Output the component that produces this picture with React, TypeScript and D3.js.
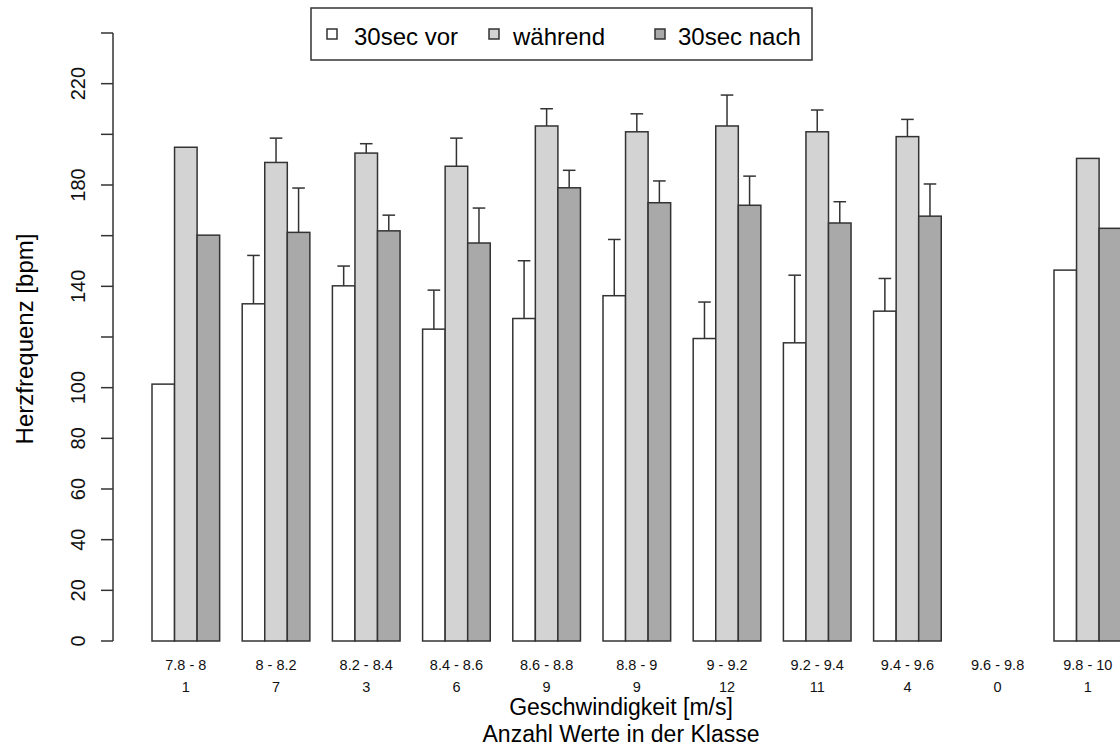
import React from "react";
import * as d3 from "d3";

// Speed classes (m/s), number of values per class and heart rate per phase.
const categories = [
  "7.8 - 8", "8 - 8.2", "8.2 - 8.4", "8.4 - 8.6", "8.6 - 8.8", "8.8 - 9",
  "9 - 9.2", "9.2 - 9.4", "9.4 - 9.6", "9.6 - 9.8", "9.8 - 10",
];
const counts = [1, 7, 3, 6, 9, 9, 12, 11, 4, 0, 1];

const seriesNames = ["30sec vor", "während", "30sec nach"];

const vorMean = [101.4, 133.1, 140.2, 123.1, 127.3, 136.3, 119.4, 117.7, 130.2, null, 146.4];
const vorSd = [null, 19.1, 7.8, 15.4, 22.8, 22.2, 14.4, 26.7, 12.9, null, null];

const waehrendMean = [194.9, 188.9, 192.6, 187.4, 203.3, 201.0, 203.3, 201.0, 199.1, null, 190.5];
const waehrendSd = [null, 9.6, 3.7, 11.1, 6.8, 7.1, 12.2, 8.6, 6.8, null, null];

const nachMean = [160.2, 161.3, 161.9, 157.1, 178.9, 173.0, 172.0, 165.0, 167.7, null, 162.9];
const nachSd = [null, 17.5, 6.2, 13.8, 6.9, 8.6, 11.5, 8.4, 12.7, null, null];

const yTicks = [0, 20, 40, 60, 80, 100, 120, 140, 160, 180, 200, 220, 240];
const yTickLabels = [0, 20, 40, 60, 80, 100, 140, 180, 220];

const means = [vorMean, waehrendMean, nachMean];
const sds = [vorSd, waehrendSd, nachSd];
const fills = ["#ffffff", "#d3d3d3", "#a9a9a9"];

const W = 1120;
const H = 747;
const FONT = "'Liberation Sans', Arial, Helvetica, sans-serif";
const INK = "#333333";

export default function App() {
  const y = d3.scaleLinear().domain([0, 240]).range([641, 33]);

  // groups: 3 bars + 1 bar-width gap, starting with a gap
  const unit = 22.55;
  const x0 = 129.45;
  const group = d3
    .scaleBand<string>()
    .domain(categories)
    .range([x0, x0 + 11.25 * 4 * unit])
    .paddingInner(0.25)
    .paddingOuter(0.25);
  const inner = d3
    .scaleBand<number>()
    .domain([0, 1, 2])
    .range([0, group.bandwidth()])
    .padding(0);

  const axisX = 113;
  const capHalf = 6.3;

  const legendBox = { x: 311, y: 8, w: 501, h: 52 };
  const legendSquareX = [327, 489, 655];
  const legendTextX = [354, 513, 678];

  return (
    <svg
      width={W}
      height={H}
      style={{ position: "absolute", left: 0, top: 0, background: "#fff" }}
      fontFamily={FONT}
    >
      <rect x={0} y={0} width={W} height={H} fill="#fff" />

      {/* bars */}
      {categories.map((c, gi) =>
        means.map((arr, si) => {
          const v = arr[gi];
          if (v == null) return null;
          const bx = (group(c) as number) + (inner(si) as number);
          return (
            <rect
              key={`b-${gi}-${si}`}
              x={bx}
              y={y(v)}
              width={inner.bandwidth()}
              height={y(0) - y(v)}
              fill={fills[si]}
              stroke={INK}
              strokeWidth={1.5}
            />
          );
        })
      )}

      {/* upper error bars (mean + sd) */}
      {categories.map((c, gi) =>
        means.map((arr, si) => {
          const v = arr[gi];
          const s = sds[si][gi];
          if (v == null || s == null) return null;
          const cx = (group(c) as number) + (inner(si) as number) + inner.bandwidth() / 2;
          const top = y(v + s);
          return (
            <g key={`e-${gi}-${si}`} stroke={INK} strokeWidth={1.5}>
              <line x1={cx} x2={cx} y1={y(v)} y2={top} />
              <line x1={cx - capHalf} x2={cx + capHalf} y1={top} y2={top} />
            </g>
          );
        })
      )}

      {/* y axis */}
      <line x1={axisX} x2={axisX} y1={y(0)} y2={y(240)} stroke={INK} strokeWidth={1.5} />
      {yTicks.map((t) => (
        <line key={`t-${t}`} x1={axisX - 12} x2={axisX} y1={y(t)} y2={y(t)} stroke={INK} strokeWidth={1.5} />
      ))}
      {yTickLabels.map((t) => (
        <text
          key={`yl-${t}`}
          transform={`translate(85,${y(t)}) rotate(-90)`}
          textAnchor="middle"
          fontSize={20}
          fill="#111"
        >
          {t}
        </text>
      ))}

      {/* x category labels */}
      {categories.map((c, gi) => {
        const cx = (group(c) as number) + group.bandwidth() / 2;
        return (
          <g key={`xl-${gi}`} fontSize={14.5} fill="#111" textAnchor="middle">
            <text x={cx} y={670}>{c}</text>
            <text x={cx} y={692}>{counts[gi]}</text>
          </g>
        );
      })}

      {/* axis titles */}
      <text x={621} y={715} textAnchor="middle" fontSize={23} fill="#000">
        Geschwindigkeit [m/s]
      </text>
      <text x={621} y={742} textAnchor="middle" fontSize={23} fill="#000">
        Anzahl Werte in der Klasse
      </text>
      <text
        transform={`translate(33,339) rotate(-90)`}
        textAnchor="middle"
        fontSize={24}
        fill="#000"
      >
        Herzfrequenz [bpm]
      </text>

      {/* legend */}
      <rect
        x={legendBox.x}
        y={legendBox.y}
        width={legendBox.w}
        height={legendBox.h}
        fill="#fff"
        stroke={INK}
        strokeWidth={1.5}
      />
      {seriesNames.map((n, i) => (
        <g key={`lg-${i}`}>
          <rect x={legendSquareX[i]} y={29} width={10} height={10} fill={fills[i]} stroke={INK} strokeWidth={1.5} />
          <text x={legendTextX[i]} y={45} fontSize={24} fill="#000">
            {n}
          </text>
        </g>
      ))}
    </svg>
  );
}
